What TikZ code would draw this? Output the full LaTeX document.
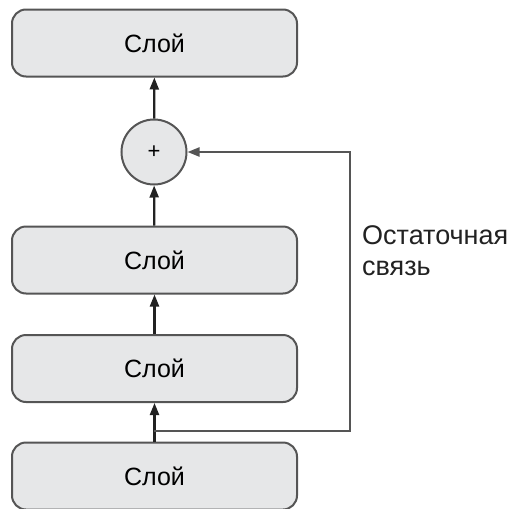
\documentclass[tikz,border=0pt]{standalone}
\usepackage{fontspec}
\setmainfont{Liberation Sans}
\usetikzlibrary{arrows.meta}
\definecolor{boxfill}{HTML}{E6E7E8}
\definecolor{boxline}{HTML}{555555}
\definecolor{arr}{HTML}{222222}
\begin{document}
\begin{tikzpicture}[x=1pt,y=-1pt,
  layerbox/.style={draw=boxline, fill=boxfill, line width=2pt, rounded corners=14pt,
    minimum width=285pt, minimum height=67pt, inner sep=0pt, font=\fontsize{25}{30}\selectfont},
  sumnode/.style={circle, draw=boxline, fill=boxfill, line width=2pt, minimum size=65pt, inner sep=0pt,
    font=\fontsize{22}{24}\selectfont},
  flow/.style={draw=arr, line width=2.2pt, -{Triangle[length=12pt,width=9pt]}},
  resid/.style={draw=boxline, line width=2.2pt}]
\useasboundingbox (0,0) rectangle (512,509);
\node[layerbox] (l1) at (154.5,43) {Слой};
\node[sumnode] (sum) at (154,152) {+};
\node[layerbox] (l2) at (154.5,260) {Слой};
\node[layerbox] (l3) at (154.5,368.5) {Слой};
\node[layerbox] (l4) at (154.5,476) {Слой};
\coordinate (j) at (154,431);
\coordinate (c1) at (350,431);
\coordinate (c2) at (350,152);
\draw[flow] (sum) -- (l1);
\draw[flow] (l2) -- (sum);
\draw[flow] (l3) -- (l2);
\draw[flow] (l4) -- (l3);
\draw[resid, -{Triangle[length=12pt,width=9pt]}] (j) -- (c1) -- (c2) -- (sum);
\node[anchor=base west, align=left, inner sep=0pt, font=\fontsize{27}{31}\selectfont, text=arr] (lbl) at (362,275) {Остаточная\\связь};
\end{tikzpicture}
\end{document}
